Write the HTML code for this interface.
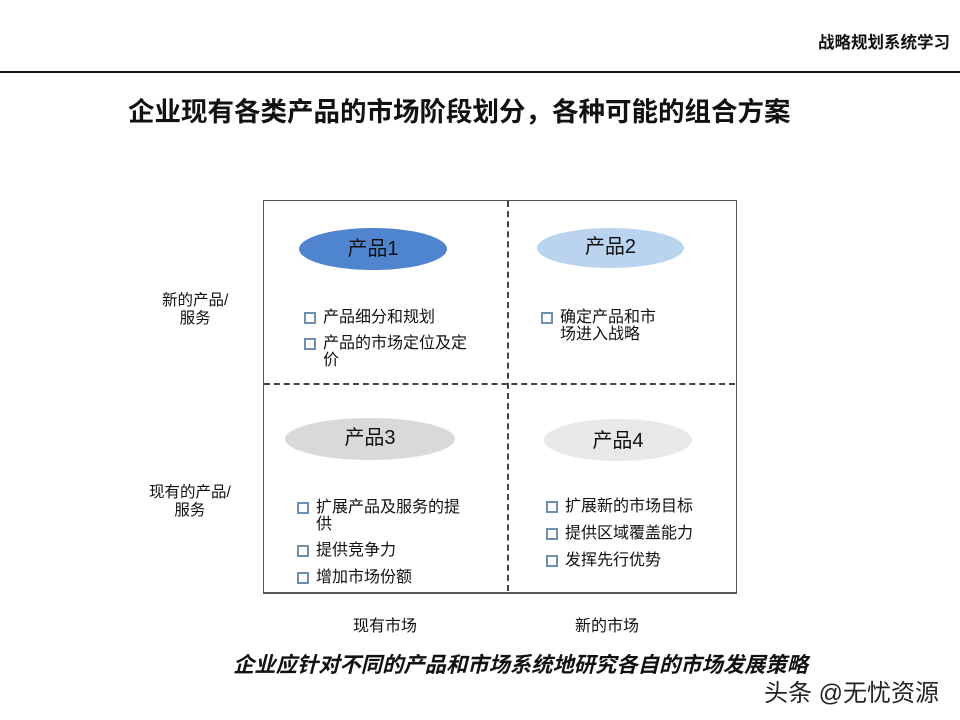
<!DOCTYPE html>
<html><head><meta charset="utf-8"><style>
body{margin:0;width:960px;height:720px;background:#fff;position:relative;overflow:hidden;font-family:"Liberation Sans","Noto Sans CJK SC",sans-serif;color:#111}
.a{position:absolute;white-space:nowrap}
.el{position:absolute;border-radius:50%;text-align:center;font-size:20px;color:#111}
.li{position:absolute;font-size:16px;line-height:17px;padding-left:19px}
.li:before{content:"";position:absolute;left:0;top:3px;width:8px;height:8px;border:2px solid #6d8fb0}
</style></head><body>
<div class="a" style="right:10px;top:29px;font-size:16.5px;font-weight:bold">战略规划系统学习</div>
<div class="a" style="left:0;top:71px;width:960px;height:2px;background:#111"></div>
<div class="a" style="left:128px;top:90px;font-size:26.5px;font-weight:bold">企业现有各类产品的市场阶段划分，各种可能的组合方案</div>
<div class="a" style="left:263px;top:200px;width:472px;height:391px;border:1px solid #555;border-bottom:2px solid #555"></div>
<div class="a" style="left:507px;top:201px;height:390px;border-left:2px dashed #444"></div>
<div class="a" style="left:264px;top:383px;width:471px;border-top:2px dashed #444"></div>
<div class="el" style="left:299px;top:228px;width:148px;height:42px;line-height:42px;background:#4f84cf">产品1</div>
<div class="el" style="left:537px;top:228px;width:147px;height:40px;line-height:38px;background:#bad3ee">产品2</div>
<div class="el" style="left:285px;top:418px;width:170px;height:42px;line-height:40px;background:#d9d9d9">产品3</div>
<div class="el" style="left:544px;top:419px;width:148px;height:42px;line-height:44px;background:#e8e8e8">产品4</div>
<div class="li" style="left:304px;top:309px">产品细分和规划</div>
<div class="li" style="left:304px;top:335px">产品的市场定位及定<br>价</div>
<div class="li" style="left:541px;top:309px">确定产品和市<br>场进入战略</div>
<div class="li" style="left:297px;top:499px">扩展产品及服务的提<br>供</div>
<div class="li" style="left:297px;top:542px">提供竞争力</div>
<div class="li" style="left:297px;top:569px">增加市场份额</div>
<div class="li" style="left:546px;top:498px">扩展新的市场目标</div>
<div class="li" style="left:546px;top:525px">提供区域覆盖能力</div>
<div class="li" style="left:546px;top:552px">发挥先行优势</div>
<div class="a" style="left:162px;top:292px;font-size:15.5px;line-height:18px;text-align:center">新的产品/<br>服务</div>
<div class="a" style="left:149px;top:484px;font-size:15.5px;line-height:18px;text-align:center">现有的产品/<br>服务</div>
<div class="a" style="left:353px;top:612px;font-size:16px">现有市场</div>
<div class="a" style="left:575px;top:612px;font-size:16px">新的市场</div>
<div class="a" style="left:233px;top:648px;font-size:21.3px;font-weight:bold;font-style:italic">企业应针对不同的产品和市场系统地研究各自的市场发展策略</div>
<div class="a" style="left:764px;top:673px;font-size:24px;color:#222">头条 @无忧资源</div>
</body></html>
